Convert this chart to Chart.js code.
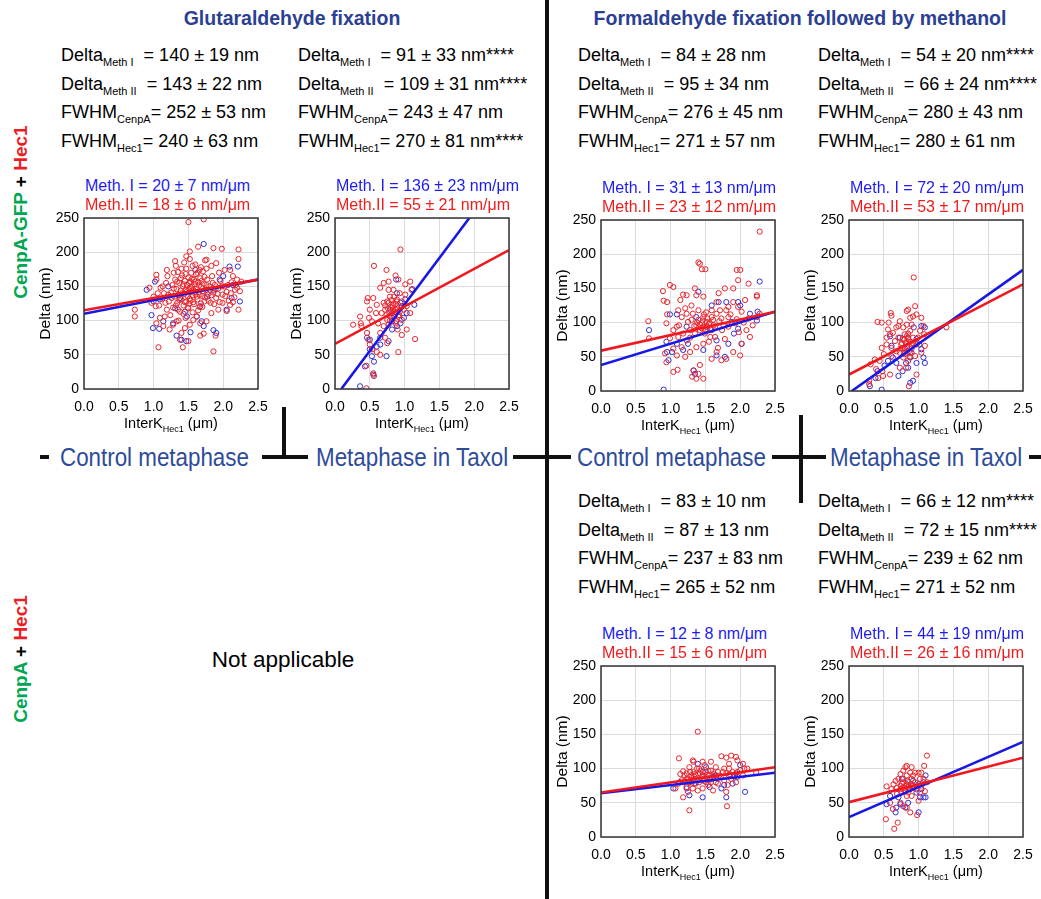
<!DOCTYPE html>
<html>
<head>
<meta charset="utf-8">
<script src="https://cdn.jsdelivr.net/npm/chart.js@4.4.1/dist/chart.umd.min.js"></script>
<style>
  body { margin: 0; background: #fff; }
  #fig { position: relative; width: 1041px; height: 899px; overflow: hidden;
         font-family: 'Liberation Sans', Arial, Helvetica, sans-serif; color: #000; }
  .abs { position: absolute; white-space: nowrap; }
  .title { font-weight: bold; font-size: 19.5px; line-height: 20px; color: #2b3f94; transform: translateX(-50%); }
  .stat { font-size: 18px; line-height: 18px; }
  .stat sub { font-size: 11px; vertical-align: -5px; line-height: 0; }
  .meth { font-size: 16px; line-height: 16px; }
  .m1 { color: #1c1cf0; }
  .m2 { color: #f01c1c; }
  .xt { font-size: 14.5px; line-height: 15px; transform: translateX(-50%); }
  .xt sub { font-size: 9px; vertical-align: -4px; line-height: 0; }
  .cond { font-size: 26px; line-height: 26px; color: #2d4b9b; transform: scaleX(0.86); transform-origin: 0 0; }
  .bar { position: absolute; background: #111; }
  .row { font-weight: bold; font-size: 19px; line-height: 20px; transform: translate(-50%, -50%) rotate(-90deg); }
  .na { font-size: 22.5px; line-height: 22px; transform: translateX(-50%); }
  canvas { position: absolute; }
</style>
</head>
<body>
<div id="fig">
  <div class="abs title" style="left:292px;top:8px">Glutaraldehyde fixation</div>
  <div class="abs title" style="left:800px;top:8px">Formaldehyde fixation followed by methanol</div>

  <div class="abs stat" style="left:61px;top:46px">Delta<sub>Meth I</sub>&nbsp; = 140 ± 19 nm</div>
  <div class="abs stat" style="left:61px;top:75px">Delta<sub>Meth II</sub>&nbsp; = 143 ± 22 nm</div>
  <div class="abs stat" style="left:61px;top:103px">FWHM<sub>CenpA</sub>= 252 ± 53 nm</div>
  <div class="abs stat" style="left:61px;top:132px">FWHM<sub>Hec1</sub>= 240 ± 63 nm</div>

  <div class="abs stat" style="left:298px;top:46px">Delta<sub>Meth I</sub>&nbsp; = 91 ± 33 nm****</div>
  <div class="abs stat" style="left:298px;top:75px">Delta<sub>Meth II</sub>&nbsp; = 109 ± 31 nm****</div>
  <div class="abs stat" style="left:298px;top:103px">FWHM<sub>CenpA</sub>= 243 ± 47 nm</div>
  <div class="abs stat" style="left:298px;top:132px">FWHM<sub>Hec1</sub>= 270 ± 81 nm****</div>

  <div class="abs stat" style="left:578px;top:46px">Delta<sub>Meth I</sub>&nbsp; = 84 ± 28 nm</div>
  <div class="abs stat" style="left:578px;top:75px">Delta<sub>Meth II</sub>&nbsp; = 95 ± 34 nm</div>
  <div class="abs stat" style="left:578px;top:103px">FWHM<sub>CenpA</sub>= 276 ± 45 nm</div>
  <div class="abs stat" style="left:578px;top:132px">FWHM<sub>Hec1</sub>= 271 ± 57 nm</div>

  <div class="abs stat" style="left:818px;top:46px">Delta<sub>Meth I</sub>&nbsp; = 54 ± 20 nm****</div>
  <div class="abs stat" style="left:818px;top:75px">Delta<sub>Meth II</sub>&nbsp; = 66 ± 24 nm****</div>
  <div class="abs stat" style="left:818px;top:103px">FWHM<sub>CenpA</sub>= 280 ± 43 nm</div>
  <div class="abs stat" style="left:818px;top:132px">FWHM<sub>Hec1</sub>= 280 ± 61 nm</div>

  <div class="abs stat" style="left:578px;top:492px">Delta<sub>Meth I</sub>&nbsp; = 83 ± 10 nm</div>
  <div class="abs stat" style="left:578px;top:521px">Delta<sub>Meth II</sub>&nbsp; = 87 ± 13 nm</div>
  <div class="abs stat" style="left:578px;top:549px">FWHM<sub>CenpA</sub>= 237 ± 83 nm</div>
  <div class="abs stat" style="left:578px;top:578px">FWHM<sub>Hec1</sub>= 265 ± 52 nm</div>

  <div class="abs stat" style="left:818px;top:492px">Delta<sub>Meth I</sub>&nbsp; = 66 ± 12 nm****</div>
  <div class="abs stat" style="left:818px;top:521px">Delta<sub>Meth II</sub>&nbsp; = 72 ± 15 nm****</div>
  <div class="abs stat" style="left:818px;top:549px">FWHM<sub>CenpA</sub>= 239 ± 62 nm</div>
  <div class="abs stat" style="left:818px;top:578px">FWHM<sub>Hec1</sub>= 271 ± 52 nm</div>

  <div class="abs row" style="left:21px;top:212px"><span style="color:#00a651">CenpA-GFP</span> + <span style="color:#ee1c24">Hec1</span></div>
  <div class="abs row" style="left:21px;top:659px"><span style="color:#00a651">CenpA</span> + <span style="color:#ee1c24">Hec1</span></div>

  <div class="abs na" style="left:283px;top:649px">Not applicable</div>

  <div class="abs cond" style="left:60px;top:444px">Control metaphase</div>
  <div class="abs cond" style="left:316px;top:444px">Metaphase in Taxol</div>
  <div class="abs cond" style="left:577px;top:444px">Control metaphase</div>
  <div class="abs cond" style="left:830px;top:444px">Metaphase in Taxol</div>

  <div class="bar" style="left:545px;top:0;width:3.5px;height:899px"></div>
  <div class="bar" style="left:40px;top:455px;width:9px;height:4px"></div>
  <div class="bar" style="left:262px;top:455px;width:46px;height:4px"></div>
  <div class="bar" style="left:282px;top:407px;width:4px;height:52px"></div>
  <div class="bar" style="left:513px;top:455px;width:58px;height:4px"></div>
  <div class="bar" style="left:772px;top:455px;width:54px;height:4px"></div>
  <div class="bar" style="left:799px;top:415px;width:4px;height:88px"></div>
  <div class="bar" style="left:1029px;top:455px;width:12px;height:4px"></div>
</div>

<script>
const X_TICKS = [0, 0.5, 1, 1.5, 2, 2.5];
const X_TICK_LABELS = ['0.0', '0.5', '1.0', '1.5', '2.0', '2.5'];
const Y_TICKS = [0, 50, 100, 150, 200, 250];

// glutaraldehyde, control metaphase
const gaCtrlRedFit = [[0, 115], [2.5, 160]];
const gaCtrlBlueFit = [[0, 110], [2.5, 160]];
const gaCtrlRed = [
  [1.50, 244], [1.72, 248], [0.73, 116], [0.73, 106], [1.07, 61], [1.42, 61], [1.86, 55], [1.67, 78],
  [1.72, 81], [1.89, 78], [1.38, 72], [1.50, 70], [1.28, 94], [1.14, 92], [1.04, 96], [2.22, 204],
  [2.22, 190], [2.22, 116], [2.10, 123], [2.05, 114], [1.86, 206], [1.98, 205], [1.64, 208], [1.52, 201],
  [1.47, 194], [1.76, 189], [1.90, 184], [1.31, 187], [1.19, 174], [1.04, 167], [1.04, 160], [0.94, 148],
  [0.97, 126], [1.03, 121], [1.09, 104], [1.19, 116], [1.16, 106], [1.23, 87], [1.33, 99], [1.40, 82],
  [1.45, 89], [1.52, 94], [1.57, 101], [1.67, 96], [1.76, 99], [1.83, 111], [1.93, 116], [1.99, 126],
  [2.02, 174], [2.10, 174], [2.14, 165], [2.20, 160], [2.26, 157], [2.17, 145], [2.24, 143],
  [1.22, 128], [1.25, 141], [1.27, 152], [1.28, 119], [1.30, 135], [1.31, 160], [1.33, 146], [1.34, 126],
  [1.35, 171], [1.36, 138], [1.37, 155], [1.38, 113], [1.39, 144], [1.40, 131], [1.41, 166], [1.42, 150],
  [1.43, 122], [1.44, 139], [1.45, 158], [1.46, 145], [1.47, 128], [1.47, 176], [1.48, 152], [1.49, 136],
  [1.50, 163], [1.50, 118], [1.51, 147], [1.52, 141], [1.53, 157], [1.53, 129], [1.54, 170], [1.55, 150],
  [1.56, 137], [1.57, 145], [1.58, 160], [1.58, 124], [1.59, 153], [1.60, 139], [1.61, 168], [1.62, 147],
  [1.63, 131], [1.64, 156], [1.65, 142], [1.66, 120], [1.67, 162], [1.68, 149], [1.70, 136], [1.71, 172],
  [1.72, 154], [1.73, 128], [1.75, 145], [1.77, 160], [1.78, 138], [1.80, 150], [1.82, 126], [1.84, 165],
  [1.86, 141], [1.88, 152], [1.90, 133], [1.93, 147], [1.96, 158], [1.99, 138], [2.02, 150], [2.05, 142],
  [2.08, 129], [2.12, 156], [2.16, 134], [2.20, 148], [1.15, 140], [1.18, 155], [1.12, 132], [1.10, 148],
  [1.08, 122], [1.20, 165], [1.24, 108], [1.32, 180], [1.44, 185], [1.52, 190], [1.60, 182], [1.68, 178],
  [1.74, 188], [1.56, 112], [1.62, 106], [1.46, 104], [1.36, 100],
  [1.26, 133], [1.29, 147], [1.32, 122], [1.34, 157], [1.37, 130], [1.39, 162], [1.41, 140], [1.43, 153],
  [1.45, 127], [1.46, 168], [1.48, 143], [1.49, 119], [1.51, 155], [1.52, 132], [1.54, 148], [1.55, 161],
  [1.57, 127], [1.59, 142], [1.60, 157], [1.62, 135], [1.63, 170], [1.65, 151], [1.66, 138], [1.68, 125],
  [1.69, 158], [1.71, 143], [1.73, 164], [1.74, 134], [1.76, 152], [1.79, 129], [1.81, 145], [1.83, 137],
  [1.85, 155], [1.87, 124], [1.89, 146], [1.92, 139], [1.95, 127], [1.98, 150], [2.03, 136], [2.07, 152],
  [2.11, 140], [2.14, 127], [2.18, 152], [1.35, 116], [1.43, 110], [1.51, 125], [1.64, 115], [1.70, 120],
  [1.21, 138], [1.17, 126], [1.13, 150], [1.06, 140], [1.00, 135], [1.29, 170], [1.40, 176], [1.56, 180],
  [1.66, 174], [1.76, 176], [1.83, 180], [1.94, 170]
];
const gaCtrlBlue = [
  [0.97, 108], [0.99, 89], [1.08, 88], [1.14, 99], [1.00, 128], [1.28, 96], [1.33, 78], [1.40, 72],
  [1.47, 70], [1.48, 106], [1.53, 83], [1.72, 212], [1.72, 92], [1.69, 99], [1.86, 86], [1.90, 82],
  [2.09, 179], [2.21, 179], [2.24, 128], [2.12, 133], [2.14, 152], [2.00, 165], [1.77, 135], [0.90, 145],
  [1.02, 157], [1.31, 118], [1.45, 113], [1.86, 145], [1.95, 160], [1.60, 174], [1.21, 150], [1.38, 133],
  [1.67, 121], [1.09, 131], [2.05, 116], [1.62, 106]
];

// glutaraldehyde, metaphase in taxol
const gaTaxRedFit = [[0, 66], [2.5, 203]];
const gaTaxBlueFit = [[0.09, 0], [1.93, 250]];
const gaTaxRed = [
  [0.94, 204], [0.56, 180], [0.26, 94], [0.36, 106], [0.37, 96], [0.74, 174], [0.77, 157], [0.70, 155],
  [0.65, 148], [0.87, 166], [0.91, 160], [1.08, 157], [1.01, 153], [0.47, 133], [0.46, 128], [0.55, 133],
  [0.60, 123], [0.50, 116], [0.59, 111], [0.49, 104], [0.53, 99], [0.38, 92], [0.46, 82], [0.48, 72],
  [0.50, 65], [0.53, 58], [0.60, 54], [0.65, 50], [0.91, 54], [0.75, 67], [0.72, 75], [0.65, 82],
  [0.70, 92], [1.15, 73], [1.03, 87], [0.96, 79], [0.90, 87], [0.55, 23], [0.56, 19], [0.45, 34],
  [0.45, 1], [1.10, 145], [1.01, 138], [0.96, 128], [1.03, 121], [1.08, 111], [0.79, 135], [0.84, 145],
  [0.75, 128], [0.72, 116], [0.79, 106], [0.87, 116], [0.91, 106], [0.77, 94], [0.87, 96], [0.96, 101],
  [0.99, 116], [0.83, 121], [0.89, 128], [0.82, 111], [0.75, 101], [0.67, 111], [0.62, 96], [0.70, 126],
  [0.93, 140], [0.77, 145], [0.78, 112], [0.80, 120], [0.82, 104], [0.84, 125], [0.86, 113], [0.88, 99],
  [0.90, 118], [0.92, 108], [0.76, 118], [0.74, 108], [0.81, 130], [0.85, 135], [0.79, 100], [0.87, 124],
  [0.93, 113], [0.95, 119], [0.83, 116], [0.77, 126], [0.89, 131], [0.72, 122]
];
const gaTaxBlue = [
  [0.36, 4], [0.43, 33], [0.56, 40], [0.53, 48], [0.46, 75], [0.50, 72], [0.50, 58], [0.74, 48],
  [0.60, 62], [0.65, 65], [0.77, 70], [0.82, 87], [0.89, 92], [0.88, 160], [1.11, 146], [1.14, 123],
  [0.96, 121], [1.03, 111], [0.85, 106], [0.79, 116], [0.94, 126], [0.82, 99], [0.99, 104], [0.89, 140],
  [0.55, 21], [0.65, 75], [0.94, 96], [1.01, 131]
];

// formaldehyde + methanol, control metaphase
const fmCtrlRedFit = [[0, 59], [2.5, 116]];
const fmCtrlBlueFit = [[0, 38], [2.5, 116]];
const fmCtrlRed = [
  [2.28, 233], [0.68, 102], [0.69, 77], [0.89, 146], [0.90, 132], [0.95, 130], [0.99, 155], [1.04, 152],
  [0.95, 112], [0.94, 99], [0.92, 55], [0.94, 42], [1.04, 28], [1.10, 31], [0.99, 77], [1.04, 62],
  [1.09, 94], [1.11, 118], [1.14, 133], [1.18, 141], [1.23, 140], [1.40, 188], [1.42, 186], [1.45, 178],
  [1.50, 178], [1.35, 150], [1.37, 140], [1.47, 138], [1.30, 125], [1.23, 113], [1.30, 104], [1.40, 118],
  [1.37, 96], [1.47, 94], [1.52, 101], [1.59, 108], [1.66, 130], [1.69, 143], [1.78, 150], [1.90, 150],
  [1.95, 177], [2.00, 177], [1.97, 162], [2.12, 157], [2.24, 140], [2.24, 138], [2.07, 133], [1.90, 130],
  [1.83, 123], [1.71, 118], [1.57, 79], [1.64, 79], [1.47, 69], [1.37, 64], [1.28, 57], [1.21, 50],
  [1.33, 30], [1.40, 25], [1.47, 18], [1.37, 18], [1.31, 21], [1.42, 38], [1.59, 47], [1.66, 57],
  [1.73, 45], [1.80, 47], [1.90, 57], [2.00, 52], [2.02, 69], [2.09, 89], [2.14, 79], [2.12, 106],
  [2.24, 108], [2.28, 113], [1.93, 99], [1.83, 94], [1.74, 89], [1.64, 94], [1.59, 89], [1.83, 108],
  [2.02, 116], [1.18, 84], [1.11, 79], [1.04, 89], [1.09, 52], [1.16, 64], [1.23, 74], [1.28, 89],
  [1.35, 84], [1.42, 89], [1.49, 84], [1.45, 99], [1.52, 94], [1.55, 98], [1.47, 108], [1.40, 104],
  [1.59, 118], [1.61, 104], [1.32, 113], [1.25, 101], [1.16, 108], [1.66, 113], [1.73, 106], [1.80, 118],
  [1.97, 123],
  [1.42, 97], [1.46, 103], [1.50, 90], [1.53, 106], [1.48, 112], [1.44, 92], [1.56, 100], [1.38, 100],
  [1.51, 115], [1.34, 95], [1.62, 96], [1.70, 102], [1.76, 96], [1.86, 112], [1.95, 105], [2.05, 100],
  [2.18, 96], [1.21, 121], [1.12, 96], [1.28, 78], [1.55, 72], [1.68, 63], [1.78, 76], [1.98, 86]
];
const fmCtrlBlue = [
  [0.90, 2], [0.69, 89], [0.94, 72], [0.95, 57], [0.97, 45], [1.02, 57], [1.09, 69], [1.09, 112],
  [0.99, 112], [1.33, 30], [1.35, 25], [1.40, 145], [1.37, 108], [1.52, 94], [1.66, 52], [1.78, 50],
  [1.91, 84], [1.97, 91], [2.02, 69], [2.00, 125], [1.97, 130], [2.28, 160], [2.24, 103], [2.25, 116],
  [2.14, 113], [1.59, 125], [1.69, 130], [1.80, 130], [1.23, 94], [1.18, 60], [1.47, 60], [1.66, 74],
  [1.25, 69], [1.57, 91], [1.83, 69], [1.88, 101]
];

// formaldehyde + methanol, metaphase in taxol
const fmTaxRedFit = [[0, 24], [2.5, 156]];
const fmTaxBlueFit = [[0.04, 0], [2.5, 177]];
const fmTaxRed = [
  [0.93, 166], [0.41, 101], [0.47, 100], [0.57, 100], [0.60, 114], [0.61, 110], [0.56, 90], [0.59, 83],
  [0.54, 68], [0.47, 63], [0.37, 46], [0.31, 39], [0.29, 15], [0.29, 10], [0.39, 32], [0.48, 29],
  [0.49, 22], [0.59, 24], [0.42, 19], [0.61, 51], [0.66, 73], [0.71, 95], [0.73, 102], [0.83, 117],
  [0.85, 119], [0.95, 124], [0.97, 112], [1.04, 107], [1.07, 95], [1.08, 83], [1.09, 66], [1.04, 56],
  [0.97, 24], [0.86, 7], [1.40, 93], [0.78, 49], [0.73, 34], [0.82, 34], [0.78, 93], [0.80, 83],
  [0.85, 76], [0.88, 88], [0.90, 97], [0.92, 78], [0.97, 68], [0.83, 63], [0.75, 68], [0.71, 78],
  [0.68, 58], [0.73, 56], [0.80, 54], [0.88, 56], [0.95, 51], [0.99, 78], [1.02, 88], [0.90, 68],
  [0.85, 44], [0.77, 76], [0.83, 97], [0.63, 85], [0.68, 93], [0.54, 78], [0.61, 63], [0.50, 54],
  [0.44, 44], [0.88, 107], [0.92, 109], [0.78, 62], [0.82, 70], [0.86, 58], [0.80, 75], [0.84, 66],
  [0.88, 72], [0.76, 70], [0.90, 62], [0.92, 70], [0.74, 62], [0.85, 84], [0.79, 56], [0.87, 50],
  [0.83, 80]
];
const fmTaxBlue = [
  [0.30, 7], [0.47, 2], [0.38, 19], [0.41, 29], [0.51, 37], [0.56, 44], [0.61, 66], [0.63, 49],
  [0.71, 22], [0.77, 29], [0.85, 34], [0.88, 12], [0.92, 15], [0.82, 41], [0.97, 41], [1.09, 41],
  [1.04, 61], [1.07, 49], [1.04, 95], [1.09, 93], [0.93, 93], [0.97, 76], [0.90, 56], [0.68, 41],
  [0.59, 80], [0.80, 63], [0.73, 78], [1.01, 68], [0.85, 78], [0.88, 49]
];

// CenpA + Hec1, formaldehyde + methanol, control metaphase
const caCtrlRedFit = [[0, 65], [2.5, 102]];
const caCtrlBlueFit = [[0, 64], [2.5, 94]];
const caCtrlRed = [
  [1.39, 154], [1.27, 39], [1.81, 45], [1.12, 115], [1.18, 96], [1.18, 58], [1.30, 90], [1.32, 112],
  [1.33, 110], [1.46, 110], [1.49, 105], [1.58, 110], [1.73, 118], [1.80, 116], [1.87, 119], [1.94, 117],
  [1.96, 112], [1.84, 107], [2.04, 107], [2.06, 100], [2.10, 100], [2.23, 94], [2.04, 90], [1.96, 95],
  [1.89, 95], [1.94, 80], [1.82, 76], [1.80, 66], [1.87, 85], [1.77, 83], [1.68, 78], [1.63, 90],
  [1.56, 85], [1.54, 76], [1.46, 71], [1.41, 80], [1.36, 90], [1.27, 80], [1.23, 73], [1.16, 83],
  [1.11, 78], [1.07, 71], [1.25, 66], [1.32, 71], [1.39, 68], [1.61, 68], [1.77, 100], [1.65, 102],
  [1.54, 97], [1.41, 100], [1.27, 102], [1.23, 93], [1.68, 95], [1.84, 100], [1.32, 83], [1.46, 90],
  [1.58, 80], [1.36, 78], [1.30, 78], [1.34, 88], [1.23, 85], [1.18, 80], [1.51, 80], [1.65, 80],
  [1.72, 88], [1.80, 93], [1.30, 86], [1.35, 92], [1.40, 84], [1.45, 88], [1.50, 95], [1.55, 90],
  [1.60, 86], [1.28, 95], [1.38, 100], [1.48, 82], [1.58, 97], [1.25, 84], [1.42, 93], [1.52, 87],
  [1.70, 90],
  [1.33, 95], [1.37, 83], [1.43, 97], [1.47, 85], [1.53, 91], [1.57, 84], [1.62, 93], [1.66, 86],
  [1.75, 95], [1.85, 92], [1.92, 88], [2.00, 98], [1.20, 90], [1.14, 92]
];
const caCtrlBlue = [
  [1.04, 71], [1.27, 61], [1.46, 58], [1.80, 58], [2.07, 66], [1.77, 76], [1.84, 90], [1.94, 93],
  [1.96, 88], [1.61, 88], [1.46, 95], [1.39, 107], [1.51, 102], [1.65, 90], [1.13, 80], [1.23, 71],
  [1.56, 73], [1.73, 71], [1.89, 78], [1.34, 78], [2.00, 105]
];

// CenpA + Hec1, formaldehyde + methanol, metaphase in taxol
const caTaxRedFit = [[0, 51], [2.5, 116]];
const caTaxBlueFit = [[0, 29], [2.5, 139]];
const caTaxRed = [
  [1.12, 119], [0.54, 74], [0.53, 26], [0.65, 12], [0.70, 21], [0.59, 50], [0.63, 41], [0.69, 63],
  [0.71, 85], [0.74, 92], [0.78, 97], [0.81, 102], [0.83, 104], [0.90, 102], [0.95, 94], [1.00, 94],
  [1.08, 104], [1.07, 85], [1.04, 75], [1.02, 65], [1.00, 53], [0.98, 32], [0.88, 36], [0.83, 43],
  [0.78, 45], [0.74, 50], [0.61, 70], [0.64, 77], [0.67, 82], [0.78, 85], [0.85, 80], [0.90, 85],
  [0.92, 75], [0.87, 70], [0.80, 72], [0.75, 65], [0.83, 60], [0.90, 60], [0.97, 70], [1.02, 85],
  [1.12, 80], [1.09, 67], [0.95, 80], [0.83, 90], [0.74, 75], [0.69, 72], [0.88, 94], [0.92, 90],
  [0.78, 80], [1.04, 94], [0.85, 65], [0.78, 72], [0.82, 76], [0.80, 68], [0.86, 74], [0.84, 82],
  [0.76, 78], [0.88, 70], [0.90, 77], [0.74, 70], [0.92, 72]
];
const caTaxBlue = [
  [0.54, 48], [0.59, 60], [0.67, 36], [0.68, 43], [0.74, 48], [0.81, 43], [1.00, 36], [1.02, 58],
  [1.07, 58], [1.10, 58], [1.10, 90], [1.07, 80], [0.97, 65], [0.87, 70], [0.83, 77], [0.76, 85],
  [0.92, 82], [1.04, 70], [0.71, 58], [1.00, 77], [0.85, 50]
];

const RED = 'rgb(240,24,30)';
const BLUE = 'rgb(24,24,230)';
const RED_PT = 'rgb(232,36,44)';
const BLUE_PT = 'rgb(46,46,214)';

// y axis box, x axis box, top and right padding of each canvas
const YW = 52, XH = 28, PT = 10, PR = 14, PW = 174, PH = 171;

const PANELS = [
  { left: 84, top: 218, red: gaCtrlRed, blue: gaCtrlBlue, redFit: gaCtrlRedFit, blueFit: gaCtrlBlueFit,
    m1: 'Meth. I = 20 ± 7 nm/μm', m2: 'Meth.II = 18 ± 6 nm/μm' },
  { left: 335, top: 218, red: gaTaxRed, blue: gaTaxBlue, redFit: gaTaxRedFit, blueFit: gaTaxBlueFit,
    m1: 'Meth. I = 136 ± 23 nm/μm', m2: 'Meth.II = 55 ± 21 nm/μm' },
  { left: 601, top: 220, red: fmCtrlRed, blue: fmCtrlBlue, redFit: fmCtrlRedFit, blueFit: fmCtrlBlueFit,
    m1: 'Meth. I = 31 ± 13 nm/μm', m2: 'Meth.II = 23 ± 12 nm/μm' },
  { left: 849, top: 220, red: fmTaxRed, blue: fmTaxBlue, redFit: fmTaxRedFit, blueFit: fmTaxBlueFit,
    m1: 'Meth. I = 72 ± 20 nm/μm', m2: 'Meth.II = 53 ± 17 nm/μm' },
  { left: 601, top: 666, red: caCtrlRed, blue: caCtrlBlue, redFit: caCtrlRedFit, blueFit: caCtrlBlueFit,
    m1: 'Meth. I = 12 ± 8 nm/μm', m2: 'Meth.II = 15 ± 6 nm/μm' },
  { left: 849, top: 666, red: caTaxRed, blue: caTaxBlue, redFit: caTaxRedFit, blueFit: caTaxBlueFit,
    m1: 'Meth. I = 44 ± 19 nm/μm', m2: 'Meth.II = 26 ± 16 nm/μm' },
];

Chart.defaults.font.family = "'Liberation Sans', Arial, Helvetica, sans-serif";
Chart.defaults.color = '#000';

const framePlugin = {
  id: 'frame',
  afterDatasetsDraw(chart) {
    const { ctx, chartArea: a } = chart;
    ctx.save();
    ctx.strokeStyle = '#333';
    ctx.lineWidth = 1.5;
    ctx.strokeRect(a.left, a.top, a.right - a.left, a.bottom - a.top);
    ctx.restore();
  },
};

const toXY = (pts) => pts.map(([x, y]) => ({ x, y }));

function addText(cls, html, left, top) {
  const d = document.createElement('div');
  d.className = 'abs ' + cls;
  d.innerHTML = html;
  d.style.left = left + 'px';
  d.style.top = top + 'px';
  document.getElementById('fig').appendChild(d);
}

function makePanel(p) {
  const fig = document.getElementById('fig');
  const canvas = document.createElement('canvas');
  const w = YW + PW + PR;
  const h = PT + PH + XH;
  canvas.width = w;
  canvas.height = h;
  canvas.style.left = `${p.left - YW}px`;
  canvas.style.top = `${p.top - PT}px`;
  canvas.style.width = `${w}px`;
  canvas.style.height = `${h}px`;
  fig.appendChild(canvas);

  addText('meth m1', p.m1, p.left + 1, p.top - 40);
  addText('meth m2', p.m2, p.left + 1, p.top - 21);
  addText('xt', 'InterK<sub>Hec1</sub> (μm)', p.left + PW / 2, p.top + PH + 27);

  new Chart(canvas, {
    type: 'scatter',
    data: {
      datasets: [
        { data: toXY(p.redFit), showLine: true, borderColor: RED, borderWidth: 2.6, pointRadius: 0 },
        { data: toXY(p.blueFit), showLine: true, borderColor: BLUE, borderWidth: 2.6, pointRadius: 0 },
        { data: toXY(p.red), borderColor: RED_PT, backgroundColor: 'rgba(0,0,0,0)', pointRadius: 2.6, borderWidth: 1 },
        { data: toXY(p.blue), borderColor: BLUE_PT, backgroundColor: 'rgba(0,0,0,0)', pointRadius: 2.6, borderWidth: 1 },
      ],
    },
    options: {
      responsive: false,
      animation: false,
      events: [],
      layout: { padding: { left: 0, top: PT, right: PR, bottom: 0 } },
      plugins: { legend: { display: false }, tooltip: { enabled: false } },
      scales: {
        x: {
          type: 'linear',
          min: 0,
          max: 2.5,
          afterBuildTicks: (s) => { s.ticks = X_TICKS.map((v) => ({ value: v })); },
          afterFit: (s) => { s.height = XH; s.paddingLeft = 0; s.paddingRight = 0; },
          ticks: { callback: (v, i) => X_TICK_LABELS[i], font: { size: 14 }, padding: 10, maxRotation: 0, autoSkip: false },
          grid: { color: '#dcdcdc', drawTicks: false },
          border: { display: false },
        },
        y: {
          min: 0,
          max: 250,
          afterBuildTicks: (s) => { s.ticks = Y_TICKS.map((v) => ({ value: v })); },
          afterFit: (s) => { s.width = YW; s.paddingTop = 0; s.paddingBottom = 0; },
          ticks: { font: { size: 14 }, padding: 5 },
          title: { display: true, text: 'Delta (nm)', font: { size: 15.5 }, padding: { top: 4, bottom: 0 } },
          grid: { color: '#dcdcdc', drawTicks: false },
          border: { display: false },
        },
      },
    },
    plugins: [framePlugin],
  });
}

PANELS.forEach(makePanel);
</script>
</body>
</html>
